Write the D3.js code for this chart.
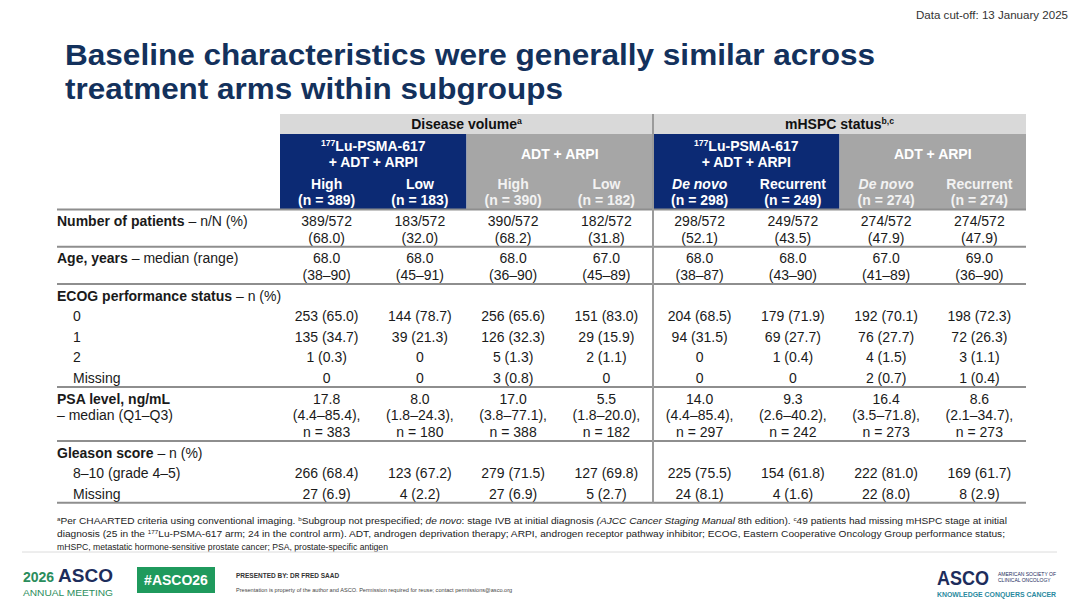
<!DOCTYPE html>
<html>
<head>
<meta charset="utf-8">
<script src="https://cdn.jsdelivr.net/npm/d3@7"></script>
<style>
  body { margin: 0; background: #fff; }
  svg { display: block; font-family: "Liberation Sans", Arial, sans-serif; }
</style>
</head>
<body>
<div id="chart-area"></div>
<script>
// ---- table data ----
var groupTitles = ["Disease volume", "mHSPC status"];
var groupSups = ["a", "b,c"];
var subgroups = ["High", "Low", "High", "Low", "De novo", "Recurrent", "De novo", "Recurrent"];
var subgroupN = [389, 183, 390, 182, 298, 249, 274, 274];

var patientsN = ["389/572", "183/572", "390/572", "182/572", "298/572", "249/572", "274/572", "274/572"];
var patientsPct = ["68.0", "32.0", "68.2", "31.8", "52.1", "43.5", "47.9", "47.9"];
var ageMedian = ["68.0", "68.0", "68.0", "67.0", "68.0", "68.0", "67.0", "69.0"];
var ageRange = ["38–90", "45–91", "36–90", "45–89", "38–87", "43–90", "41–89", "36–90"];
var ecog0 = ["253 (65.0)", "144 (78.7)", "256 (65.6)", "151 (83.0)", "204 (68.5)", "179 (71.9)", "192 (70.1)", "198 (72.3)"];
var ecog1 = ["135 (34.7)", "39 (21.3)", "126 (32.3)", "29 (15.9)", "94 (31.5)", "69 (27.7)", "76 (27.7)", "72 (26.3)"];
var ecog2 = ["1 (0.3)", "0", "5 (1.3)", "2 (1.1)", "0", "1 (0.4)", "4 (1.5)", "3 (1.1)"];
var ecogMissing = ["0", "0", "3 (0.8)", "0", "0", "0", "2 (0.7)", "1 (0.4)"];
var psaMedian = ["17.8", "8.0", "17.0", "5.5", "14.0", "9.3", "16.4", "8.6"];
var psaIQR = ["4.4–85.4", "1.8–24.3", "3.8–77.1", "1.8–20.0", "4.4–85.4", "2.6–40.2", "3.5–71.8", "2.1–34.7"];
var psaN = [383, 180, 388, 182, 297, 242, 273, 273];
var gleason810 = ["266 (68.4)", "123 (67.2)", "279 (71.5)", "127 (69.8)", "225 (75.5)", "154 (61.8)", "222 (81.0)", "169 (61.7)"];
var gleasonMissing = ["27 (6.9)", "4 (2.2)", "27 (6.9)", "5 (2.7)", "24 (8.1)", "4 (1.6)", "22 (8.0)", "8 (2.9)"];

var BLUE = "#0c2a74", GREY = "#a6a6a6", LIGHT = "#d9d9d9", NAVY = "#13315c", RULE = "#8e8e8e";

// sections of the table body
var sections = [
  { rows: [{ label: [[{ t: "Number of patients", b: 1 }, { t: " – n/N (%)" }]],
             cells: patientsN.map((d, i) => [d, "(" + patientsPct[i] + ")"]) }] },
  { rows: [{ label: [[{ t: "Age, years", b: 1 }, { t: " – median (range)" }]],
             cells: ageMedian.map((d, i) => [d, "(" + ageRange[i] + ")"]) }] },
  { rows: [
      { label: [[{ t: "ECOG performance status", b: 1 }, { t: " – n (%)" }]], cells: null },
      { label: [[{ t: "0" }]], indent: 1, cells: ecog0.map(d => [d]) },
      { label: [[{ t: "1" }]], indent: 1, cells: ecog1.map(d => [d]) },
      { label: [[{ t: "2" }]], indent: 1, cells: ecog2.map(d => [d]) },
      { label: [[{ t: "Missing" }]], indent: 1, cells: ecogMissing.map(d => [d]) }] },
  { rows: [{ label: [[{ t: "PSA level, ng/mL", b: 1 }], [{ t: "– median (Q1–Q3)" }]],
             cells: psaMedian.map((d, i) => [d, "(" + psaIQR[i] + "),", "n = " + psaN[i]]) }] },
  { rows: [
      { label: [[{ t: "Gleason score", b: 1 }, { t: " – n (%)" }]], cells: null },
      { label: [[{ t: "8–10 (grade 4–5)" }]], indent: 1, cells: gleason810.map(d => [d]) },
      { label: [[{ t: "Missing" }]], indent: 1, cells: gleasonMissing.map(d => [d]) }] }
];

var footnotes = [
  [{ t: "a", sup: 1 }, { t: "Per CHAARTED criteria using conventional imaging. " }, { t: "b", sup: 1 },
   { t: "Subgroup not prespecified; " }, { t: "de novo", i: 1 }, { t: ": stage IVB at initial diagnosis " },
   { t: "(AJCC Cancer Staging Manual", i: 1 }, { t: " 8th edition). " }, { t: "c", sup: 1 },
   { t: "49 patients had missing mHSPC stage at initial" }],
  [{ t: "diagnosis (25 in the " }, { t: "177", sup: 1 },
   { t: "Lu-PSMA-617 arm; 24 in the control arm). ADT, androgen deprivation therapy; ARPI, androgen receptor pathway inhibitor; ECOG, Eastern Cooperative Oncology Group performance status;" }],
  [{ t: "mHSPC, metastatic hormone-sensitive prostate cancer; PSA, prostate-specific antigen" }]
];
var footnoteWidths = [950, 948, 331];

// ---- helpers ----
function rich(text, parts, size) {
  var up = false;
  parts.forEach(p => {
    var ts = text.append("tspan").text(p.t);
    if (p.b) ts.attr("font-weight", "bold");
    if (p.i) ts.attr("font-style", "italic");
    if (p.sup) {
      ts.attr("font-size", size * 0.62);
      if (!up) ts.attr("dy", -size * 0.38);
      up = true;
    } else if (up) {
      ts.attr("dy", size * 0.38);
      up = false;
    }
  });
}

var svg = d3.select("#chart-area")
  .append("svg")
  .attr("width", 1080)
  .attr("height", 608);

svg.append("rect").attr("width", 1080).attr("height", 608).attr("fill", "#fff");

// scales
var x = d3.scaleBand().domain(d3.range(8)).range([280, 1026]);
var armX = d3.scaleBand().domain(d3.range(4)).range([280, 1026]);
var groupX = d3.scaleBand().domain(d3.range(2)).range([280, 1026]);

// ---- top texts ----
svg.append("text")
  .attr("x", 1068).attr("y", 19)
  .attr("text-anchor", "end")
  .attr("font-size", 11).attr("fill", "#333")
  .attr("textLength", 152).attr("lengthAdjust", "spacingAndGlyphs")
  .text("Data cut-off: 13 January 2025");

var titleLines = ["Baseline characteristics were generally similar across", "treatment arms within subgroups"];
var titleWidths = [810, 498];
svg.selectAll(".title")
  .data(titleLines)
  .enter()
  .append("text")
  .attr("class", "title")
  .attr("x", 65)
  .attr("y", (d, i) => 65 + i * 34)
  .attr("font-size", 29).attr("font-weight", "bold").attr("fill", NAVY)
  .attr("textLength", (d, i) => titleWidths[i]).attr("lengthAdjust", "spacingAndGlyphs")
  .text(d => d);

// ---- header blocks ----
svg.selectAll(".grp")
  .data(groupTitles)
  .enter()
  .append("rect")
  .attr("x", (d, i) => groupX(i))
  .attr("y", 114)
  .attr("width", groupX.bandwidth())
  .attr("height", 20)
  .attr("fill", LIGHT);

groupTitles.forEach((g, i) => {
  var t = svg.append("text")
    .attr("x", groupX(i) + groupX.bandwidth() / 2)
    .attr("y", 129)
    .attr("text-anchor", "middle")
    .attr("font-size", 14).attr("font-weight", "bold").attr("fill", "#111");
  rich(t, [{ t: g }, { t: groupSups[i], sup: 1 }], 14);
});

svg.selectAll(".arm")
  .data(d3.range(4))
  .enter()
  .append("rect")
  .attr("x", d => armX(d))
  .attr("y", 134)
  .attr("width", armX.bandwidth())
  .attr("height", 75)
  .attr("fill", d => d % 2 === 0 ? BLUE : GREY);

d3.range(4).forEach(a => {
  var cx = armX(a) + armX.bandwidth() / 2;
  if (a % 2 === 0) {
    var t1 = svg.append("text").attr("x", cx).attr("y", 151)
      .attr("text-anchor", "middle").attr("font-size", 14).attr("font-weight", "bold").attr("fill", "#fff");
    rich(t1, [{ t: "177", sup: 1 }, { t: "Lu-PSMA-617" }], 14);
    svg.append("text").attr("x", cx).attr("y", 167)
      .attr("text-anchor", "middle").attr("font-size", 14).attr("font-weight", "bold").attr("fill", "#fff")
      .text("+ ADT + ARPI");
  } else {
    svg.append("text").attr("x", cx).attr("y", 159)
      .attr("text-anchor", "middle").attr("font-size", 14).attr("font-weight", "bold").attr("fill", "#fff")
      .text("ADT + ARPI");
  }
});

var sub = svg.selectAll(".sub")
  .data(subgroups)
  .enter()
  .append("g")
  .attr("transform", (d, i) => "translate(" + (x(i) + x.bandwidth() / 2) + ",0)")
  .attr("font-size", 14).attr("font-weight", "bold")
  .attr("text-anchor", "middle")
  .attr("fill", (d, i) => Math.floor(i / 2) % 2 === 0 ? "#fff" : "#f2f2f2");

sub.append("text")
  .attr("y", 189)
  .attr("font-style", d => d === "De novo" ? "italic" : "normal")
  .text(d => d);
sub.append("text")
  .attr("y", 205)
  .text((d, i) => "(n = " + subgroupN[i] + ")");

// ---- body ----
var LINE = 16.8, STEP = 20.6, PAD_TOP = 11.5, PAD_BOTTOM = 9;
var rules = [209.5];
var cursor = 209.5;
var body = svg.append("g").attr("font-size", 14).attr("fill", "#1a1a1a");

sections.forEach(sec => {
  var y = cursor + PAD_TOP;
  var last = y;
  sec.rows.forEach(row => {
    var nLines = Math.max(row.label.length, row.cells ? row.cells[0].length : 1);
    row.label.forEach((parts, li) => {
      var t = body.append("text")
        .attr("x", row.indent ? 73 : 57)
        .attr("y", y + li * LINE + 5);
      rich(t, parts, 14);
    });
    if (row.cells) {
      row.cells.forEach((lines, ci) => {
        body.selectAll(null)
          .data(lines)
          .enter()
          .append("text")
          .attr("x", x(ci) + x.bandwidth() / 2)
          .attr("y", (d, li) => y + li * LINE + 5)
          .attr("text-anchor", "middle")
          .text(d => d);
      });
    }
    last = y + (nLines - 1) * LINE;
    y = last + STEP;
  });
  cursor = last + PAD_BOTTOM;
  rules.push(cursor);
});

svg.selectAll(".rule")
  .data(rules)
  .enter()
  .append("line")
  .attr("x1", 57).attr("x2", 1026)
  .attr("y1", d => d).attr("y2", d => d)
  .attr("stroke", RULE).attr("stroke-width", 2);

svg.append("line")
  .attr("x1", groupX(1)).attr("x2", groupX(1))
  .attr("y1", 114).attr("y2", rules[rules.length - 1])
  .attr("stroke", "#9b9b9b").attr("stroke-width", 2);

// ---- footnotes ----
footnotes.forEach((parts, i) => {
  var t = svg.append("text")
    .attr("x", 57).attr("y", 524 + i * 13)
    .attr("font-size", 8.5).attr("fill", "#222")
    .attr("textLength", footnoteWidths[i]).attr("lengthAdjust", "spacingAndGlyphs");
  rich(t, parts, 8.5);
});

svg.append("line")
  .attr("x1", 22).attr("x2", 1057)
  .attr("y1", 552).attr("y2", 552)
  .attr("stroke", "#dcdcdc").attr("stroke-width", 1);

// ---- footer ----
var GREEN = "#2b8d5c";
var logo = svg.append("text").attr("x", 23).attr("y", 582).attr("font-weight", "bold");
logo.append("tspan").attr("font-size", 14).attr("fill", GREEN).text("2026 ");
logo.append("tspan").attr("font-size", 19).attr("fill", "#1d2d5c").text("ASCO");
svg.append("text").attr("x", 23).attr("y", 596)
  .attr("font-size", 9).attr("fill", GREEN)
  .attr("textLength", 90).attr("lengthAdjust", "spacingAndGlyphs")
  .text("ANNUAL MEETING");

svg.append("rect").attr("x", 137).attr("y", 567).attr("width", 78).attr("height", 26).attr("fill", "#1f9a5d");
svg.append("text").attr("x", 176).attr("y", 585)
  .attr("text-anchor", "middle").attr("font-size", 14).attr("font-weight", "bold").attr("fill", "#fff")
  .text("#ASCO26");

svg.append("text").attr("x", 236).attr("y", 578)
  .attr("font-size", 6.5).attr("font-weight", "bold").attr("fill", "#333")
  .text("PRESENTED BY: DR FRED SAAD");
svg.append("text").attr("x", 236).attr("y", 592)
  .attr("font-size", 5.6).attr("fill", "#444")
  .text("Presentation is property of the author and ASCO. Permission required for reuse; contact permissions@asco.org");

svg.append("text").attr("x", 937).attr("y", 585)
  .attr("font-size", 20).attr("font-weight", "bold").attr("fill", "#1d2d5c")
  .attr("textLength", 52).attr("lengthAdjust", "spacingAndGlyphs")
  .text("ASCO");
svg.selectAll(".soc")
  .data(["AMERICAN SOCIETY OF", "CLINICAL ONCOLOGY"])
  .enter()
  .append("text")
  .attr("x", 998).attr("y", (d, i) => 576 + i * 6)
  .attr("font-size", 5).attr("fill", "#1d2d5c")
  .text(d => d);
svg.append("text").attr("x", 937).attr("y", 597)
  .attr("font-size", 7).attr("font-weight", "bold").attr("fill", "#2a8aa0")
  .attr("textLength", 119).attr("lengthAdjust", "spacingAndGlyphs")
  .text("KNOWLEDGE CONQUERS CANCER");
</script>
</body>
</html>
